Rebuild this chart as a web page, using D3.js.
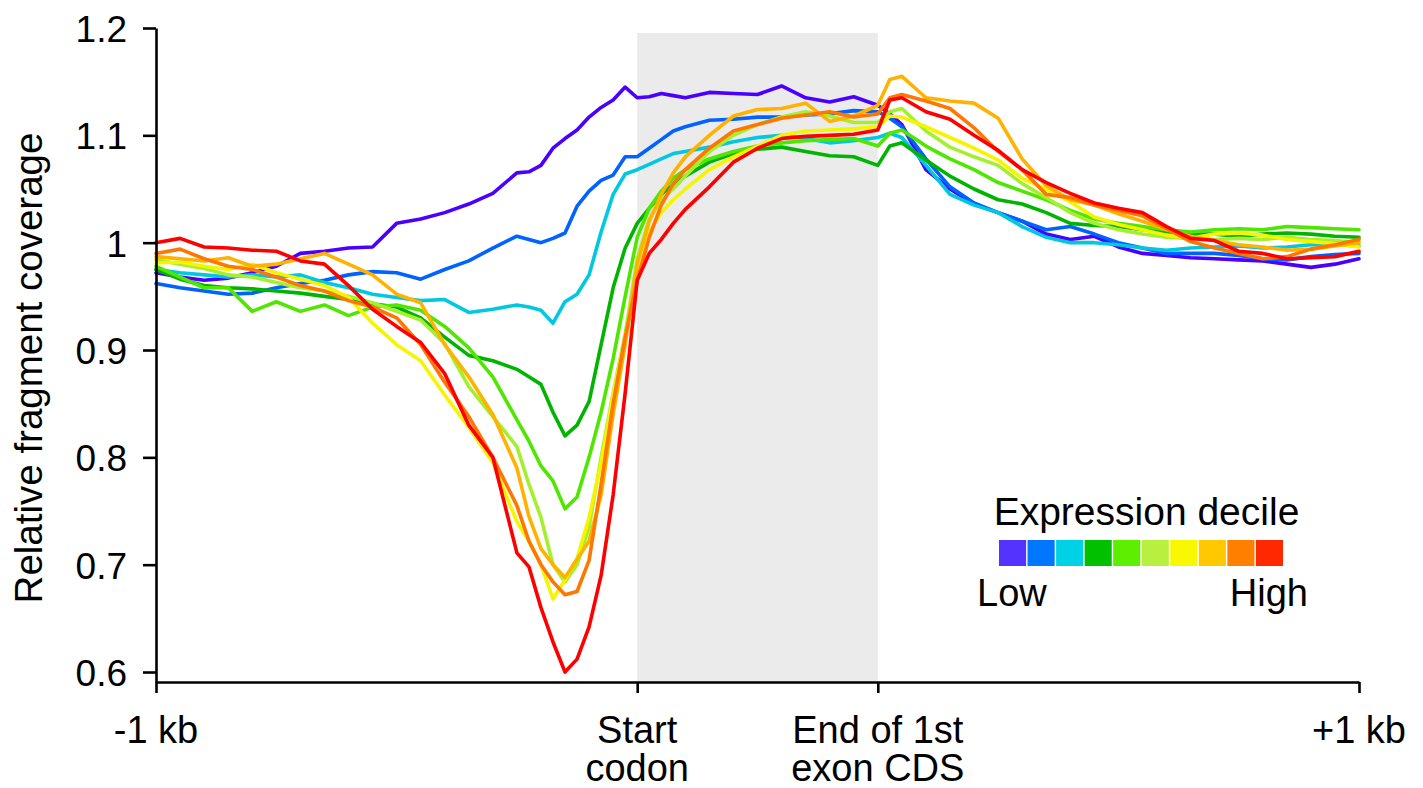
<!DOCTYPE html>
<html>
<head>
<meta charset="utf-8">
<script src="https://cdn.jsdelivr.net/npm/d3@7"></script>
<style>
  body { margin: 0; background: #fff; }
  svg { display: block; font-family: "Liberation Sans", Arial, Helvetica, sans-serif; }
</style>
</head>
<body>
<svg id="chart" width="1423" height="788"></svg>
<script>
// Position along the metagene (0-200: 1 kb upstream, 200-300: first exon CDS, 300-500: 1 kb downstream)
const positions = [0,10,20,30,40,50,60,70,80,90,100,110,120,130,140,150,155,160,165,170,175,180,185,190,195,200,205,210,215,220,230,240,250,260,270,280,290,300,305,310,320,330,340,350,360,370,380,390,400,410,420,430,440,450,460,470,480,490,500];

const deciles = ["D1","D2","D3","D4","D5","D6","D7","D8","D9","D10"];

const decile1 = [0.972,0.968,0.965,0.967,0.972,0.978,0.990,0.992,0.995,0.996,
  1.018,1.022,1.028,1.036,1.046,1.065,1.066,1.072,1.088,1.097,
  1.105,1.117,1.126,1.133,1.145,1.135,1.136,1.139,1.137,1.135,
  1.140,1.139,1.138,1.146,1.135,1.131,1.136,1.128,1.120,1.110,
  1.068,1.050,1.036,1.028,1.020,1.008,1.003,1.006,0.996,0.990,
  0.988,0.986,0.985,0.984,0.983,0.980,0.977,0.980,0.985];
const decile2 = [0.962,0.958,0.955,0.952,0.953,0.958,0.962,0.965,0.970,0.973,
  0.972,0.966,0.975,0.983,0.995,1.006,1.003,1.000,1.004,1.009,
  1.034,1.048,1.058,1.063,1.080,1.080,1.088,1.096,1.104,1.108,
  1.114,1.115,1.117,1.117,1.119,1.120,1.123,1.122,1.116,1.108,
  1.078,1.052,1.037,1.028,1.020,1.012,1.015,1.008,1.000,0.995,
  0.990,0.990,0.990,0.988,0.985,0.984,0.987,0.989,0.990];
const decile3 = [0.975,0.972,0.970,0.968,0.970,0.968,0.970,0.963,0.958,0.952,
  0.949,0.946,0.947,0.935,0.938,0.942,0.940,0.937,0.925,0.945,
  0.952,0.970,1.010,1.045,1.064,1.068,1.073,1.078,1.083,1.085,
  1.089,1.094,1.098,1.100,1.097,1.093,1.095,1.098,1.102,1.098,
  1.072,1.045,1.035,1.028,1.015,1.005,1.000,1.000,0.998,0.995,
  0.993,0.995,0.996,0.997,0.995,0.996,0.998,0.998,0.997];
const decile4 = [0.975,0.966,0.960,0.958,0.957,0.955,0.953,0.950,0.947,0.943,
  0.940,0.930,0.912,0.895,0.890,0.882,0.875,0.868,0.842,0.820,
  0.830,0.852,0.905,0.958,0.995,1.018,1.032,1.045,1.054,1.062,
  1.075,1.083,1.087,1.089,1.085,1.081,1.080,1.072,1.090,1.093,
  1.077,1.062,1.050,1.040,1.036,1.028,1.018,1.016,1.015,1.012,
  1.010,1.008,1.008,1.006,1.008,1.009,1.008,1.006,1.005];
const decile5 = [0.978,0.968,0.958,0.958,0.936,0.945,0.936,0.942,0.932,0.940,
  0.942,0.937,0.922,0.902,0.875,0.835,0.815,0.792,0.778,0.752,
  0.763,0.800,0.842,0.892,0.950,1.005,1.032,1.048,1.060,1.068,
  1.078,1.085,1.090,1.093,1.095,1.096,1.097,1.090,1.102,1.105,
  1.090,1.078,1.068,1.056,1.048,1.040,1.030,1.022,1.018,1.015,
  1.012,1.010,1.012,1.013,1.012,1.015,1.014,1.013,1.012];
const decile6 = [0.984,0.980,0.976,0.970,0.968,0.963,0.958,0.955,0.950,0.944,
  0.936,0.928,0.906,0.866,0.838,0.810,0.775,0.744,0.700,0.684,
  0.700,0.735,0.800,0.860,0.915,0.985,1.022,1.040,1.050,1.062,
  1.085,1.100,1.110,1.117,1.122,1.118,1.112,1.112,1.122,1.125,
  1.104,1.089,1.080,1.072,1.055,1.042,1.028,1.018,1.012,1.008,
  1.005,1.004,1.003,1.004,1.003,1.005,1.003,1.002,1.000];
const decile7 = [0.981,0.982,0.978,0.975,0.980,0.972,0.966,0.960,0.949,0.925,
  0.905,0.890,0.858,0.828,0.795,0.740,0.722,0.700,0.668,0.686,
  0.706,0.744,0.795,0.858,0.912,0.965,1.010,1.028,1.040,1.050,
  1.068,1.080,1.090,1.100,1.104,1.105,1.106,1.108,1.118,1.117,
  1.108,1.098,1.088,1.077,1.060,1.050,1.038,1.024,1.017,1.012,
  1.007,1.004,1.008,1.009,1.007,1.003,1.001,0.999,0.996];
const decile8 = [0.987,0.985,0.983,0.986,0.978,0.980,0.985,0.990,0.980,0.970,
  0.952,0.944,0.905,0.875,0.840,0.790,0.745,0.715,0.700,0.688,
  0.705,0.722,0.765,0.840,0.905,0.980,1.020,1.045,1.065,1.080,
  1.100,1.118,1.124,1.125,1.130,1.113,1.118,1.128,1.152,1.155,
  1.135,1.132,1.130,1.116,1.078,1.053,1.040,1.035,1.027,1.020,
  1.012,1.006,1.002,0.998,0.996,0.993,0.994,0.997,1.000];
const decile9 = [0.990,0.994,0.985,0.978,0.975,0.968,0.960,0.955,0.946,0.940,
  0.930,0.905,0.870,0.838,0.800,0.755,0.722,0.700,0.684,0.672,
  0.675,0.704,0.775,0.850,0.912,0.965,1.005,1.035,1.055,1.068,
  1.088,1.104,1.110,1.116,1.119,1.122,1.117,1.120,1.135,1.138,
  1.132,1.125,1.107,1.085,1.068,1.045,1.042,1.035,1.030,1.025,
  1.013,1.001,0.995,0.990,0.985,0.987,0.994,0.998,1.003];
const decile10 = [1.000,1.004,0.996,0.995,0.993,0.992,0.983,0.980,0.960,0.938,
  0.922,0.907,0.878,0.830,0.800,0.711,0.698,0.660,0.628,0.600,
  0.612,0.642,0.690,0.765,0.860,0.965,0.990,1.003,1.018,1.031,
  1.052,1.075,1.088,1.097,1.099,1.100,1.101,1.105,1.133,1.135,
  1.122,1.115,1.100,1.086,1.068,1.056,1.046,1.037,1.032,1.028,
  1.015,1.004,1.002,0.992,0.990,0.985,0.986,0.987,0.992];

const seriesValues = [decile1,decile2,decile3,decile4,decile5,decile6,decile7,decile8,decile9,decile10];
const lineColors = ["#4a00ff","#0062ff","#00c8e0","#00b400","#4fe600","#a6ef2e","#f5f500","#ffb300","#ff7700","#ff0000"];
const legendColors = ["#5533ff","#0077ff","#00d2e6","#00c000","#5eef00","#b8f040","#f8f800","#ffc800","#ff8000","#ff2800"];

const yTicks = [0.6,0.7,0.8,0.9,1.0,1.1,1.2];
const yTickLabels = ["0.6","0.7","0.8","0.9","1","1.1","1.2"];
const xTickPositions = [0,200,300,500];
const xTickLabels = [["-1 kb"],["Start","codon"],["End of 1st","exon CDS"],["+1 kb"]];
const exonRegion = [200,300];
const yTitle = "Relative fragment coverage";
const legendTitle = "Expression decile";
const legendEnds = ["Low","High"];

const svg = d3.select("#chart");
svg.append("rect").attr("width",1423).attr("height",788).attr("fill","#fff");

const x = d3.scaleLinear().domain([0,500]).range([156,1359]);
const y = d3.scaleLinear().domain([0.5907,1.2]).range([682,28]);

// shaded first-exon region
svg.append("rect")
  .attr("x", x(exonRegion[0]))
  .attr("width", x(exonRegion[1]) - x(exonRegion[0]))
  .attr("y", y(1.1953))
  .attr("height", y(0.5907) - y(1.1953))
  .attr("fill", "#ebebeb");

// lines
const line = d3.line()
  .x((d,i) => x(positions[i]))
  .y(d => y(d));

svg.append("g").selectAll("path")
  .data(seriesValues)
  .join("path")
  .attr("d", line)
  .attr("fill","none")
  .attr("stroke",(d,i)=>lineColors[i])
  .attr("stroke-width",3.6)
  .attr("stroke-linejoin","round")
  .attr("stroke-linecap","round");

// y axis
const yAxis = svg.append("g")
  .attr("transform", `translate(${x(0)},0)`)
  .call(d3.axisLeft(y).tickValues(yTicks).tickFormat((d,i)=>yTickLabels[i]).tickSize(13).tickSizeOuter(0).tickPadding(16));
yAxis.selectAll("path,line").attr("stroke","#000").attr("stroke-width",2.6);
yAxis.selectAll("text").attr("font-size",37).attr("fill","#000")
  .attr("font-family",'"Liberation Sans", Arial, sans-serif').attr("dy","0.36em");

// x axis
const xAxis = svg.append("g")
  .attr("transform", `translate(0,${y.range()[0]})`)
  .call(d3.axisBottom(x).tickValues(xTickPositions).tickFormat("").tickSize(11).tickSizeOuter(0));
xAxis.selectAll("path,line").attr("stroke","#000").attr("stroke-width",2.6);

const xl = svg.append("g").selectAll("text")
  .data(xTickPositions)
  .join("text")
  .attr("x", d => x(d))
  .attr("y", 743)
  .attr("text-anchor","middle")
  .attr("font-size",38)
  .attr("fill","#000");
xl.each(function(d,i){
  const t = d3.select(this);
  xTickLabels[i].forEach((s,j)=>{
    t.append("tspan").attr("x", x(d)).attr("dy", j===0 ? 0 : 38).text(s);
  });
});

// y title
svg.append("text")
  .attr("transform","translate(42,368) rotate(-90)")
  .attr("text-anchor","middle")
  .attr("font-size",38.5)
  .attr("fill","#000")
  .text(yTitle);

// legend
svg.append("text")
  .attr("x",1146.5).attr("y",525)
  .attr("text-anchor","middle")
  .attr("font-size",39)
  .attr("fill","#000")
  .text(legendTitle);

const lx = d3.scaleBand().domain(deciles).range([999,1283]).paddingInner(0.05);
svg.append("g").selectAll("rect")
  .data(deciles)
  .join("rect")
  .attr("x", d => lx(d))
  .attr("y", 540)
  .attr("width", lx.bandwidth())
  .attr("height", 26)
  .attr("fill", (d,i) => legendColors[i]);

svg.append("text").attr("x",977).attr("y",606).attr("font-size",38).attr("fill","#000").text(legendEnds[0]);
svg.append("text").attr("x",1308).attr("y",606).attr("text-anchor","end").attr("font-size",38).attr("fill","#000").text(legendEnds[1]);
</script>
</body>
</html>
